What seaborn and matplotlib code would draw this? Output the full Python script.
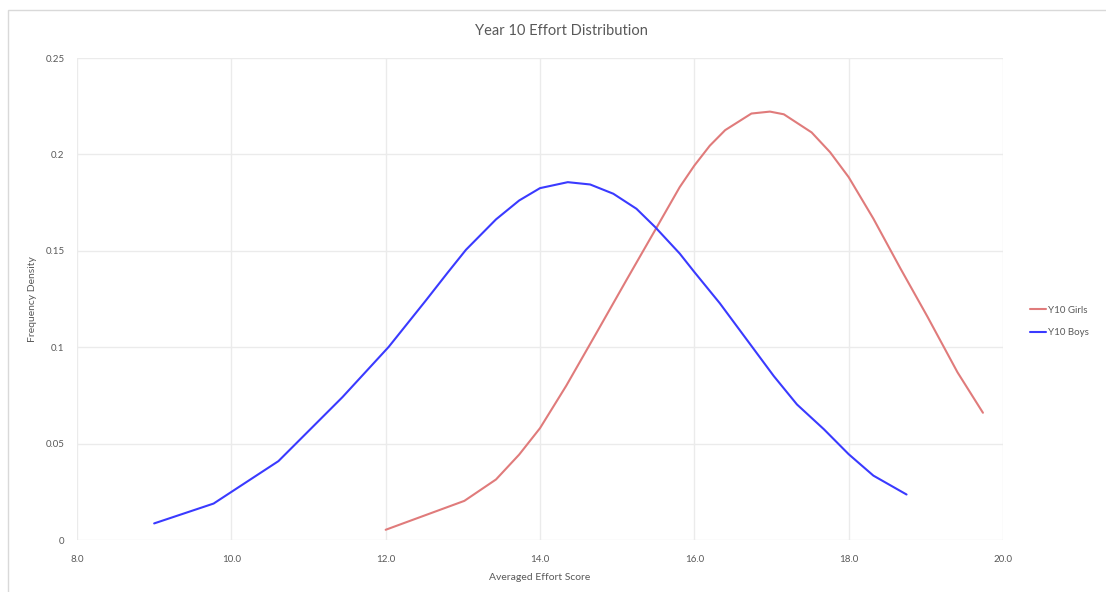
import matplotlib
matplotlib.use("Agg")
import matplotlib.pyplot as plt
from matplotlib.patches import Rectangle
import pandas as pd
import seaborn as sns

# Averaged effort scores and their frequency densities
girls_x = [12.0, 13.02, 13.43, 13.73, 14.0, 14.34, 14.73, 15.12, 15.49, 15.81,
           16.0, 16.2, 16.4, 16.74, 16.98, 17.16, 17.52, 17.76, 18.0, 18.32,
           18.67, 19.02, 19.41, 19.74]
girls_y = [0.0053, 0.0203, 0.0314, 0.0443, 0.058, 0.080, 0.1073, 0.1348, 0.1606, 0.183,
           0.1942, 0.2045, 0.2126, 0.2212, 0.2222, 0.2208, 0.2114, 0.2011, 0.1882, 0.1667,
           0.1409, 0.1159, 0.087, 0.066]

boys_x = [9.0, 9.77, 10.61, 11.44, 12.04, 12.52, 12.8, 13.04, 13.43, 13.73, 14.0,
          14.36, 14.65, 14.95, 15.25, 15.49, 15.81, 16.0, 16.33, 16.68, 17.03,
          17.33, 17.68, 18.0, 18.32, 18.75]
boys_y = [0.0086, 0.0189, 0.0409, 0.0741, 0.1002, 0.1242, 0.1385, 0.1505, 0.1663, 0.1761, 0.1825,
          0.1856, 0.1844, 0.1796, 0.1718, 0.1624, 0.1486, 0.139, 0.1228, 0.1039, 0.085,
          0.0703, 0.0574, 0.0445, 0.0334, 0.0236]

series_names = ["Y10 Girls", "Y10 Boys"]
x_ticks = [8, 10, 12, 14, 16, 18, 20]
y_ticks = [0, 0.05, 0.1, 0.15, 0.2, 0.25]
y_tick_labels = ["0", "0.05", "0.1", "0.15", "0.2", "0.25"]

df = pd.concat([
    pd.DataFrame({"score": girls_x, "density": girls_y, "series": series_names[0]}),
    pd.DataFrame({"score": boys_x, "density": boys_y, "series": series_names[1]}),
], ignore_index=True)

sns.set_theme(style="whitegrid")
plt.rcParams["font.family"] = ["Lato", "DejaVu Sans"]

text_col = "#595959"
grid_col = "#ebebeb"

fig = plt.figure(figsize=(11.06, 5.92), dpi=100)
ax = fig.add_axes([77 / 1106, 1 - 540 / 592, (1003 - 77) / 1106, (540 - 58) / 592])

# chart frame
fig.patches.append(Rectangle((8 / 1106, -0.05), 1.2, 1 - 10 / 592 + 0.05,
                             transform=fig.transFigure, fill=False,
                             edgecolor="#d9d9d9", linewidth=1.0, zorder=0))

palette = {"Y10 Girls": "#e07b7b", "Y10 Boys": "#3a3aff"}
sns.lineplot(data=df, x="score", y="density", hue="series", hue_order=series_names,
             palette=palette, ax=ax, linewidth=1.5, sort=True, estimator=None)

ax.set_xlim(8, 20)
ax.set_ylim(0, 0.25)
ax.set_xticks(x_ticks)
ax.set_xticklabels([f"{t:.1f}" for t in x_ticks])
ax.set_yticks(y_ticks)
ax.set_yticklabels(y_tick_labels)
ax.tick_params(axis="both", labelsize=7, colors=text_col, length=0)
ax.tick_params(axis="x", pad=11)
ax.tick_params(axis="y", pad=9)
ax.grid(True, color=grid_col, linewidth=1.0)
for s in ax.spines.values():
    s.set_visible(False)
ax.set_facecolor("white")

ax.set_xlabel("Averaged Effort Score", fontsize=7.5, color=text_col, labelpad=6)
ax.set_ylabel("Frequency Density", fontsize=7.5, color=text_col, labelpad=6)

fig.text(561 / 1106, 1 - 31 / 592, "Year 10 Effort Distribution", ha="center", va="center",
         fontsize=10.5, color=text_col)

leg = ax.legend(loc="center left", bbox_to_anchor=(1.02, 0.453), frameon=False,
                fontsize=7, handlelength=1.6, handletextpad=0.2, labelspacing=1.4)
for t in leg.get_texts():
    t.set_color(text_col)

fig.savefig("out.png", dpi=100, facecolor="white")
